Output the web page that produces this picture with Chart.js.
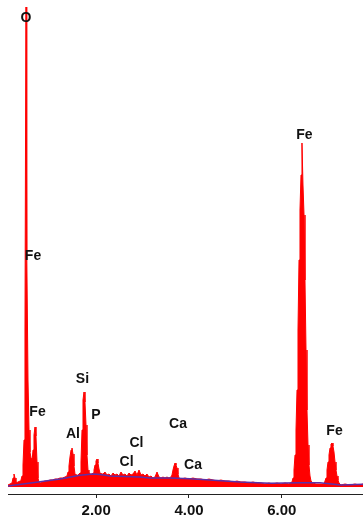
<!DOCTYPE html>
<html>
<head>
<meta charset="utf-8">
<script src="https://cdn.jsdelivr.net/npm/chart.js@4/dist/chart.umd.min.js"></script>
<style>
  html, body { margin: 0; padding: 0; background: #ffffff; }
  canvas { display: block; }
</style>
</head>
<body>
<canvas id="eds" width="363" height="525"></canvas>
<script>
// EDS spectrum: energy (keV) and counts per channel
const energyKeV = [
  0.100, 0.143, 0.186, 0.208, 0.229, 0.251, 0.272, 0.315, 0.359, 0.380,
  0.402, 0.423, 0.445, 0.466, 0.477, 0.488, 0.499, 0.509, 0.531, 0.553,
  0.574, 0.596, 0.617, 0.639, 0.660, 0.682, 0.703, 0.725, 0.746, 0.768,
  0.790, 0.843, 0.897, 0.950, 1.005, 1.060, 1.113, 1.167, 1.221, 1.275,
  1.328, 1.371, 1.393, 1.414, 1.436, 1.458, 1.479, 1.501, 1.522, 1.544,
  1.565, 1.608, 1.652, 1.673, 1.695, 1.716, 1.738, 1.759, 1.781, 1.802,
  1.824, 1.845, 1.867, 1.910, 1.932, 1.953, 1.975, 1.996, 2.018, 2.039,
  2.061, 2.083, 2.104, 2.147, 2.190, 2.233, 2.276, 2.320, 2.363, 2.406,
  2.449, 2.492, 2.535, 2.578, 2.621, 2.664, 2.708, 2.751, 2.794, 2.837,
  2.880, 2.923, 2.966, 3.009, 3.052, 3.095, 3.138, 3.181, 3.224, 3.268,
  3.311, 3.354, 3.397, 3.440, 3.483, 3.526, 3.569, 3.612, 3.634, 3.655,
  3.677, 3.699, 3.720, 3.742, 3.763, 3.785, 3.828, 3.914, 4.000, 4.086,
  4.172, 4.258, 4.345, 4.431, 4.517, 4.603, 4.689, 4.776, 4.862, 4.948,
  5.034, 5.120, 5.207, 5.293, 5.379, 5.465, 5.551, 5.638, 5.724, 5.810,
  5.896, 5.982, 6.069, 6.155, 6.220, 6.242, 6.263, 6.285, 6.306, 6.328,
  6.349, 6.371, 6.392, 6.414, 6.435, 6.457, 6.479, 6.500, 6.522, 6.543,
  6.565, 6.586, 6.608, 6.630, 6.673, 6.737, 6.823, 6.910, 6.953, 6.974,
  6.996, 7.017, 7.039, 7.060, 7.082, 7.103, 7.125, 7.147, 7.168, 7.190,
  7.211, 7.233, 7.276, 7.362, 7.470, 7.578, 7.664, 7.750
];

const counts = [
    20,   30,   40,   90,  130,   90,   40,   50,   60,   70,
   110,  220,  470, 1570, 3370, 4800, 3670, 2370, 1070,  570,
   350,  290,  250,  370,  520,  600,  510,  250,   90,   50,
    40,   50,   60,   60,   70,   70,   80,   80,   90,   90,
   100,  110,  150,  210,  300,  370,  390,  330,  210,  130,
   110,  120,  140,  250,  570,  870,  950,  850,  620,  320,
   170,  140,  130,  130,  140,  170,  220,  260,  280,  240,
   180,  140,  130,  130,  150,  120,  130,  110,  140,  120,
   130,  110,  150,  120,  130,  110,  140,  120,  130,  160,
   120,  170,  120,  130,  110,  130,  100,  110,   90,  100,
   150,  100,   90,  100,   90,  100,   90,  100,  120,  170,
   210,  240,  220,  190,  130,   90,   80,   90,   80,   90,
    80,   80,   70,   80,   70,   60,   70,   60,   60,   50,
    60,   50,   50,   40,   50,   40,   40,   30,   40,   30,
    40,   30,   40,   30,   50,   90,  170,  320,  570,  970,
  1570, 2270, 2770, 3120, 3440, 3020, 2720, 2070, 1370,  770,
   420,  220,  110,   60,   40,   30,   30,   30,   90,  170,
   250,  320,  390,  430,  440,  410,  350,  250,  170,  110,
    70,   40,   20,   30,   20,   30,   20,   30
];

// Bremsstrahlung background fit
const bgEnergyKeV = [0.100, 0.790, 1.221, 1.652, 1.932, 2.083, 2.298, 2.944, 3.160,
                     3.591, 4.022, 4.453, 5.099, 5.746, 6.392, 6.823, 7.276, 7.750];
const bgCounts    = [10, 53, 80, 117, 130, 125, 110, 100, 90,
                     90, 83, 70, 50, 37, 43, 43, 20, 27];

// Element line identifications
const peakLabels    = ['O', 'Fe', 'Fe', 'Al', 'Si', 'P', 'Cl', 'Cl', 'Ca', 'Ca', 'Fe', 'Fe'];
const peakLabelKeV  = [0.488, 0.639, 0.736, 1.501, 1.705, 1.996, 2.869, 2.654, 3.763, 4.087, 6.489, 7.136];
const peakLabelY    = [4690, 2310, 750, 530, 1080, 720, 440, 250, 630, 220, 3520, 560];

// Energy axis ticks
const tickValues = [2, 4, 6];

const spectrum = energyKeV.map((e, i) => ({ x: e, y: counts[i] }));
const background = bgEnergyKeV.map((e, i) => ({ x: e, y: bgCounts[i] }));

const peakLabelPlugin = {
  id: 'peakLabels',
  afterDatasetsDraw(chart) {
    const { ctx, scales: { x, y } } = chart;
    ctx.save();
    ctx.fillStyle = '#111111';
    ctx.font = 'bold 14px "Liberation Sans", Arial, sans-serif';
    ctx.textAlign = 'center';
    ctx.textBaseline = 'middle';
    peakLabels.forEach((t, i) => {
      ctx.fillText(t, x.getPixelForValue(peakLabelKeV[i]), y.getPixelForValue(peakLabelY[i]));
    });
    ctx.restore();
  }
};

new Chart(document.getElementById('eds'), {
  type: 'line',
  data: {
    datasets: [
      {
        label: 'background',
        data: background,
        borderColor: '#5c30a8',
        borderWidth: 1.5,
        fill: false,
        pointRadius: 0,
        tension: 0,
        order: 0
      },
      {
        label: 'spectrum',
        data: spectrum,
        borderColor: '#ff0000',
        backgroundColor: '#ff0000',
        borderWidth: 1,
        fill: 'origin',
        pointRadius: 0,
        tension: 0,
        order: 1
      }
    ]
  },
  options: {
    responsive: false,
    animation: false,
    layout: { padding: { left: 8, right: 0, top: 7, bottom: 2 } },
    plugins: { legend: { display: false }, tooltip: { enabled: false } },
    scales: {
      x: {
        type: 'linear',
        min: 0.1,
        max: 7.75,
        afterBuildTicks(scale) {
          scale.ticks = tickValues.map(v => ({ value: v }));
        },
        grid: {
          display: true,
          drawOnChartArea: false,
          drawTicks: true,
          tickLength: 4,
          color: '#222222',
          lineWidth: 1
        },
        border: { display: true, color: '#222222', width: 1 },
        ticks: {
          padding: 6.5,
          color: '#111111',
          font: { family: '"Liberation Sans", Arial, sans-serif', size: 15, weight: 'bold', lineHeight: 0.8 },
          callback: v => Number(v).toFixed(2),
          maxRotation: 0
        }
      },
      y: {
        display: false,
        min: -70,
        max: 4800
      }
    }
  },
  plugins: [peakLabelPlugin]
});
</script>
</body>
</html>
